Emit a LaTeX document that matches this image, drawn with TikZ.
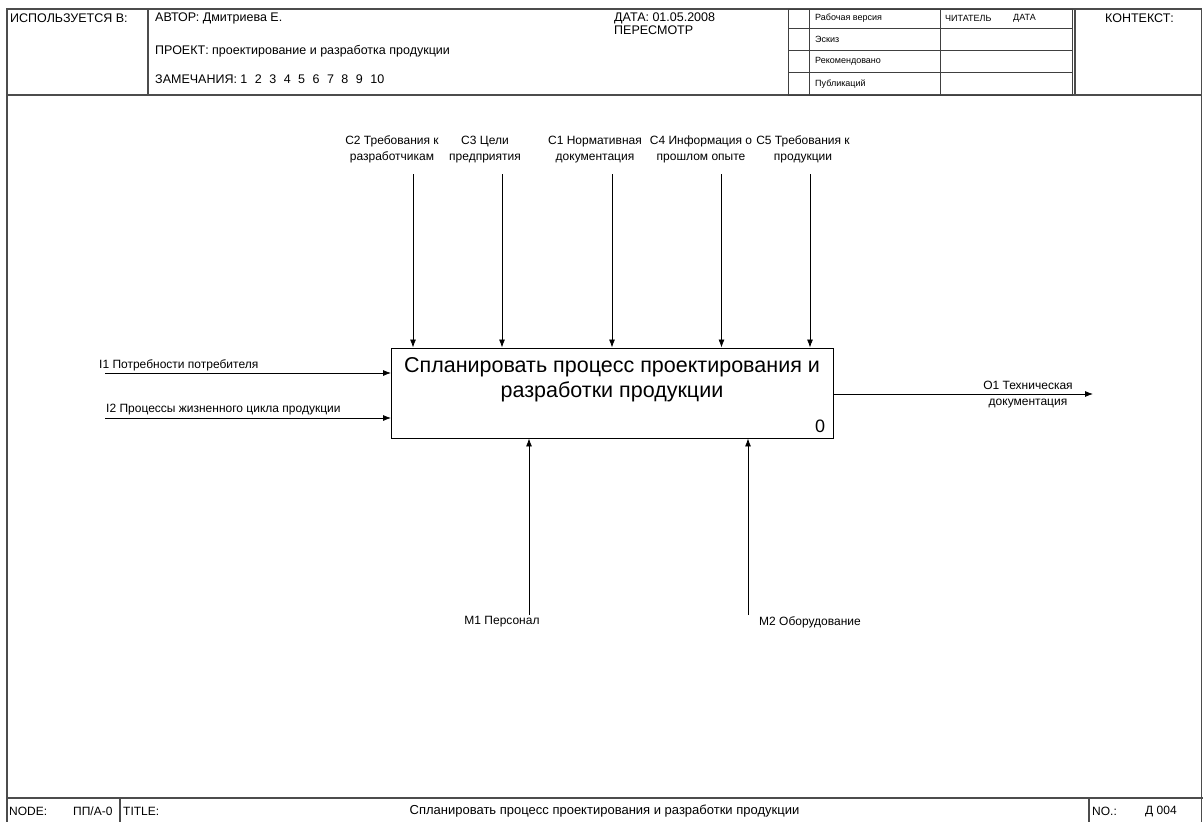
\documentclass[tikz,border=0pt]{standalone}
\usepackage{fontspec}
\setmainfont{Liberation Sans}
\usetikzlibrary{positioning, arrows.meta}
\tikzset{
    >={Latex[length=8pt, width=6pt]}, % filled arrow heads
    frame/.style={draw=black!70, line width=1.3pt}, % outer frame, header and footer lines
    cell/.style={draw=black!75, line width=1pt}, % status grid in the header
    hdr/.style={anchor=west, inner sep=0pt, font=\fontsize{12.5}{14}\selectfont},
    small/.style={anchor=west, inner sep=0pt, font=\fontsize{9}{11}\selectfont},
    lbl/.style={align=center, inner sep=0pt, font=\fontsize{12}{16}\selectfont},
    flow/.style={->, line width=0.8pt}, % arrows of the diagram
    func/.style={draw, line width=0.9pt, minimum width=441.5pt, minimum height=90pt, inner sep=0pt},
}

\begin{document}
\begin{tikzpicture}[x=1pt, y=-1pt]
\useasboundingbox (0,0) rectangle (1203,822);

% frame
\draw[frame] (7,822) -- (7,9) -- (1201.5,9) -- (1201.5,822);
\draw[frame] (7,95) -- (1201.5,95);
\draw[frame] (7,798) -- (1203,798);
\draw[frame] (148,9) -- (148,95);
\draw[frame] (1075,9) -- (1075,95);
\draw[frame] (120,798) -- (120,822);
\draw[frame] (1089,798) -- (1089,822);

% status grid
\draw[cell] (788,9) rectangle (1072,95);
\draw[cell] (809,9) -- (809,95);
\draw[cell] (940,9) -- (940,95);
\foreach \y in {28,50.5,72.5}
    \draw[cell] (788,\y) -- (1072,\y);

% header texts
\node[hdr] (used) at (10,18) {ИСПОЛЬЗУЕТСЯ В:};
\node[hdr] (author) at (155,18) {АВТОР: Дмитриева Е.};
\node[hdr] (project) at (155,51) {ПРОЕКТ: проектирование и разработка продукции};
\node[hdr] (notes) at (155,79) {ЗАМЕЧАНИЯ: 1\hspace{4pt} 2\hspace{4pt} 3\hspace{4pt} 4\hspace{4pt} 5\hspace{4pt} 6\hspace{4pt} 7\hspace{4pt} 8\hspace{4pt} 9\hspace{4pt} 10};
\node[hdr] (date) at (614,18) {ДАТА: 01.05.2008};
\node[hdr] (rev) at (614,30) {ПЕРЕСМОТР};
\node[small] (work) at (815,18.5) {Рабочая версия};
\node[small] (draft) at (815,39.5) {Эскиз};
\node[small] (rec) at (815,61.5) {Рекомендовано};
\node[small] (pub) at (815,84) {Публикаций};
\node[small] (reader) at (945,18) {ЧИТАТЕЛЬ};
\node[small] (rdate) at (1013,18) {ДАТА};
\node[hdr] (context) at (1105,18) {КОНТЕКСТ:};

% function block
\node[func] (a0) at (612.25,393) {};
\node[lbl, font=\fontsize{21.5}{25}\selectfont] (a0t) at (612,380)
    {Спланировать процесс проектирования и\\разработки продукции};
\node[anchor=south east, inner sep=0pt, font=\fontsize{18}{20}\selectfont] (a0n)
    at ([xshift=-8pt, yshift=6pt]a0.south east) {0};

% controls
\node[lbl] (c2) at (392,149.5) {С2 Требования к\\разработчикам};
\node[lbl] (c3) at (485,149.5) {С3 Цели\\предприятия};
\node[lbl] (c1) at (595,149.5) {С1 Нормативная\\документация};
\node[lbl] (c4) at (701,149.5) {С4 Информация о\\прошлом опыте};
\node[lbl] (c5) at (803,149.5) {С5 Требования к\\продукции};
\coordinate (c2s) at (413,174);
\coordinate (c3s) at (502,174);
\coordinate (c1s) at (612,174);
\coordinate (c4s) at (721.5,174);
\coordinate (c5s) at (810,174);
\foreach \c in {c2s,c3s,c1s,c4s,c5s}
    \draw[flow] (\c) -- (\c |- a0.north);

% inputs
\node[lbl, anchor=west] (i1) at (99,365) {I1 Потребности потребителя};
\node[lbl, anchor=west] (i2) at (106,410) {I2 Процессы жизненного цикла продукции};
\coordinate (i1s) at (105,373);
\coordinate (i2s) at (105,418);
\draw[flow] (i1s) -- (i1s -| a0.west);
\draw[flow] (i2s) -- (i2s -| a0.west);

% output
\coordinate (o1e) at (1093,394);
\node[lbl] (o1) at (1028,394.5) {О1 Техническая\\документация};
\draw[flow] (a0.east |- o1e) -- (o1e);

% mechanisms
\coordinate (m1s) at (529,615);
\coordinate (m2s) at (748,615);
\node[lbl] (m1) at (502,622) {М1 Персонал};
\node[lbl] (m2) at (810,622) {М2 Оборудование};
\draw[flow] (m1s) -- (m1s |- a0.south);
\draw[flow] (m2s) -- (m2s |- a0.south);

% footer
\node[hdr, font=\fontsize{12}{14}\selectfont] (nodelbl) at (9,811) {NODE:};
\node[hdr, font=\fontsize{12}{14}\selectfont] (nodeno) at (73,811) {ПП/А-0};
\node[hdr, font=\fontsize{12}{14}\selectfont] (titlelbl) at (123,811) {TITLE:};
\node[lbl, font=\fontsize{13}{15}\selectfont] (title) at (604.5,811) {Спланировать процесс проектирования и разработки продукции};
\node[hdr, font=\fontsize{12}{14}\selectfont] (nolbl) at (1092,811) {NO.:};
\node[hdr, font=\fontsize{12}{14}\selectfont] (no) at (1145,811) {Д 004};
\end{tikzpicture}
\end{document}
